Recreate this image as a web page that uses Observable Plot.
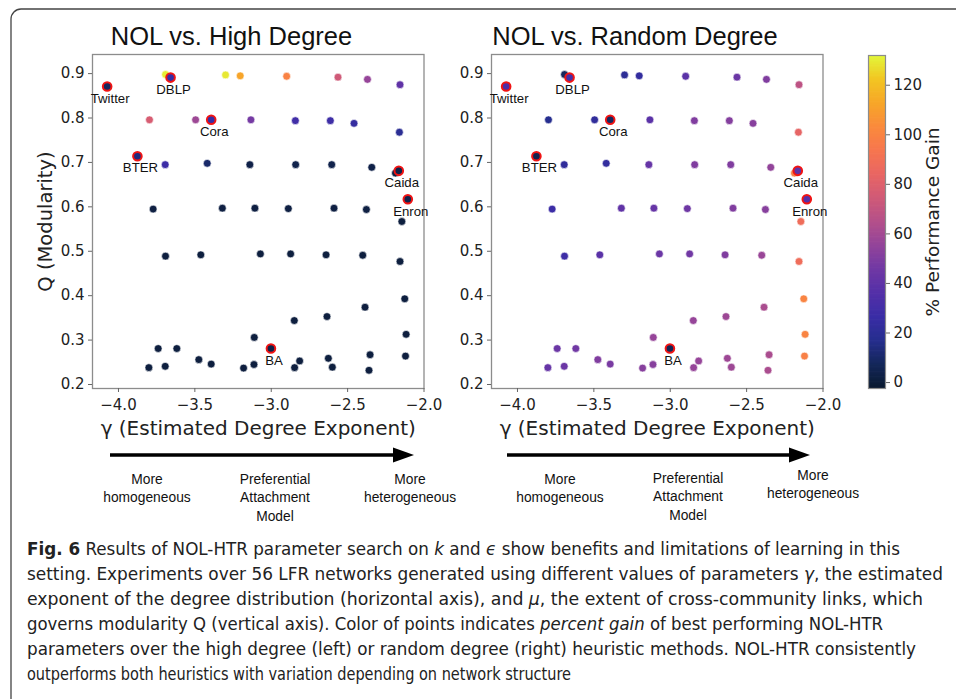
<!DOCTYPE html>
<html><head><meta charset="utf-8">
<script src="https://cdn.jsdelivr.net/npm/d3@7"></script>
<script src="https://cdn.jsdelivr.net/npm/@observablehq/plot@0.6"></script>
<style>
body{margin:0;background:#fff;}
#page{position:relative;width:956px;height:699px;overflow:hidden;background:#fff;}
.slot{position:absolute;top:0;}
</style></head><body><div id="page">
<svg id="overlay" width="956" height="699" style="position:absolute;left:0;top:0"></svg>
<div id="left" class="slot" style="left:0;width:440px"></div>
<div id="right" class="slot" style="left:399px;width:440px"></div>
<div id="cbar" class="slot" style="left:840px;width:116px"></div>
</div>
<script>
// ---------- data ----------
// 56 LFR networks: estimated degree exponent (gamma) and modularity (Q)
const lfrGamma = [
  -3.692,-3.299,-3.203,-2.899,-2.563,-2.370,-2.157,
  -3.797,-3.495,-3.133,-2.842,-2.613,-2.458,-2.161,
  -3.694,-3.419,-3.140,-2.840,-2.604,-2.342,-2.187,
  -3.773,-3.320,-3.107,-2.888,-2.589,-2.377,-2.145,
  -3.692,-3.461,-3.071,-2.873,-2.641,-2.401,-2.157,
  -2.126,-2.386,-2.635,-2.849,-3.111,-2.117,-3.740,-3.618,-2.353,-2.121,-3.474,
  -2.626,-2.814,-3.393,-3.113,-3.801,-3.694,-3.181,-2.847,-2.600,-2.360
];
const lfrQ = [
  0.898,0.897,0.895,0.894,0.892,0.887,0.875,
  0.796,0.796,0.796,0.794,0.794,0.788,0.768,
  0.695,0.698,0.695,0.695,0.695,0.689,0.676,
  0.595,0.597,0.597,0.596,0.597,0.594,0.567,
  0.489,0.492,0.494,0.494,0.492,0.491,0.477,
  0.393,0.374,0.353,0.344,0.306,0.313,0.281,0.281,0.267,0.264,0.256,
  0.259,0.253,0.246,0.245,0.238,0.241,0.237,0.238,0.239,0.232
];
// % performance gain over High Degree heuristic
const lfrGainHigh = [
  130,129,112,99,74,56,40,
  77,58,47,29,28,24,19,
  27,10,3,4,4,3,2,
  2,2,2,2,2,2,1,
  1,1,1,1,1,1,1,
  1,1,1,1,1,1,1,1,1,1,1,
  1,1,1,1,1,1,1,1,1,1
];
// % performance gain over Random Degree heuristic
const lfrGainRandom = [
  8,20,23,38,44,50,68,
  17,22,38,50,51,52,83,
  22,23,42,50,50,55,98,
  27,40,42,45,50,52,88,
  28,38,44,46,50,57,88,
  100,62,58,56,56,100,44,46,62,98,50,
  58,56,48,52,42,44,52,56,58,62
];
// real-world / model networks
const netNames = ["Twitter","DBLP","Cora","BTER","Caida","Enron","BA"];
const netGamma = [-4.074,-3.659,-3.393,-3.876,-2.165,-2.106,-3.002];
const netQ = [0.871,0.891,0.796,0.714,0.681,0.617,0.281];
const netGainHigh = [8,25,25,14,3,4,3];
const netGainRandom = [33,30,8,5,40,36,6];

const xTicks = [-4.0,-3.5,-3.0,-2.5,-2.0];
const yTicks = [0.2,0.3,0.4,0.5,0.6,0.7,0.8,0.9];
const cbTicks = [0,20,40,60,80,100,120];
const titles = ["NOL vs. High Degree","NOL vs. Random Degree"];
const xLabel = "γ (Estimated Degree Exponent)";
const yLabel = "Q (Modularity)";
const cbLabel = "% Performance Gain";
const notes = [["More","homogeneous"],["Preferential","Attachment","Model"],["More","heterogeneous"]];

// ---------- colour ----------
const stops = ["#0a1a30","#14275a","#262e8e","#3a2da6","#5430a8","#7038a4","#93449a",
  "#b4508a","#d05a77","#e96663","#f7764e","#fa8b3c","#f7a728","#f2c622","#e2f83a"];
const colorScale = {type:"linear", domain:[-2.4,132], interpolate:d3.piecewise(d3.interpolateRgb, stops)};

const lfr = lfrGamma.map((g,i)=>({g, q:lfrQ[i], hi:lfrGainHigh[i], rd:lfrGainRandom[i]}));
const nets = netNames.map((n,i)=>({n, g:netGamma[i], q:netQ[i], hi:netGainHigh[i], rd:netGainRandom[i]}));

function panel(key, withY){
  return Plot.plot({
    width:440, height:440,
    marginLeft:92, marginRight:16.5, marginTop:54, marginBottom:52,
    style:{background:"transparent", fontFamily:"DejaVu Sans", fontSize:"15px", color:"#222", overflow:"visible"},
    x:{domain:[-4.17,-2.0]},
    y:{domain:[0.191,0.943]},
    color:colorScale,
    marks:[
      Plot.frame({stroke:"#8c8c8c", strokeWidth:1.3}),
      Plot.axisX({ticks:xTicks, tickFormat:".1f", tickSize:4, tickPadding:7, label:null, stroke:"#666", fill:"#222", fontSize:15}),
      Plot.axisY({ticks:yTicks, tickFormat:".1f", tickSize:4, tickPadding:4, label:null, stroke:"#666", fill:"#222", fontSize:15}),
      Plot.dot(lfr, {x:"g", y:"q", fill:key, r:3.9, stroke:"white", strokeWidth:0.6}),
      Plot.dot(nets, {x:"g", y:"q", fill:key, r:4.3, stroke:"#f01414", strokeWidth:2}),
      Plot.text(nets, {x:"g", y:"q", text:"n", dx:3, dy:12, fontFamily:"Liberation Sans", fontSize:13.2, fill:"#111"}),
      Plot.text([xLabel], {frameAnchor:"bottom", lineAnchor:"middle", textAnchor:"middle", dy:40, fontSize:20, fill:"#222"}),
      withY ? Plot.text([yLabel], {frameAnchor:"left", lineAnchor:"middle", textAnchor:"middle", dx:-47, rotate:-90, fontSize:19.5, fill:"#222"}) : null
    ]
  });
}

document.getElementById("left").append(panel("hi", true));
document.getElementById("right").append(panel("rd", false));

const step = 0.5;
const ramp = d3.range(-2.4, 132, step);
document.getElementById("cbar").append(Plot.plot({
  width:116, height:440,
  marginLeft:28, marginRight:71, marginTop:55, marginBottom:52,
  style:{background:"transparent", fontFamily:"DejaVu Sans", fontSize:"15px", color:"#222", overflow:"visible"},
  x:{domain:[0,1], axis:null},
  y:{domain:[-2.4,132], axis:null},
  color:colorScale,
  marks:[
    Plot.rect(ramp, {x1:d=>0, x2:d=>1, y1:d=>d, y2:d=>Math.min(132, d+step*1.6), fill:d=>d+step/2}),
    Plot.frame({stroke:"#8c8c8c", strokeWidth:1.2}),
    Plot.axisY({anchor:"right", ticks:cbTicks, tickSize:4, tickPadding:4, label:null, stroke:"#666", fill:"#222", fontSize:15}),
    Plot.text([cbLabel], {frameAnchor:"right", lineAnchor:"middle", textAnchor:"middle", dx:48, rotate:-90, fontSize:18.5, fill:"#222"})
  ]
}));

// ---------- overlay: border, titles, arrows, notes, caption ----------
const svg = d3.select("#overlay");
svg.append("rect").attr("x",11).attr("y",9).attr("width",1000).attr("height",1000).attr("rx",10)
  .attr("fill","none").attr("stroke","#444").attr("stroke-width",1.3);
const tx = [231.5, 635];
titles.forEach((t,i)=>svg.append("text").attr("x",tx[i]).attr("y",45).attr("text-anchor","middle")
  .attr("font-family","Liberation Sans, Arial, sans-serif").attr("font-size",25.5).attr("fill","#111").text(t));

const arrows = [[110,414],[507,810]];
arrows.forEach(([a,b])=>{
  svg.append("line").attr("x1",a).attr("x2",b-18).attr("y1",455).attr("y2",455).attr("stroke","#000").attr("stroke-width",3.3);
  svg.append("path").attr("d",`M${b-21},447.5L${b},455L${b-21},462.5Z`).attr("fill","#000");
});
const noteX = [[147,275,410],[560,688,813]];
const noteY = [[484,484,484],[484,483,480]];
noteX.forEach((row,p)=>row.forEach((x,k)=>{
  const t = svg.append("text").attr("text-anchor","middle").attr("font-family","Liberation Sans, Arial, sans-serif")
    .attr("font-size",13.8).attr("fill","#111");
  notes[k].forEach((s,j)=>t.append("tspan").attr("x",x).attr("y",noteY[p][k]+j*18.3).text(s));
}));

const caption = [
  [["b","Fig. 6"],["n"," Results of NOL-HTR parameter search on "],["i","k"],["n"," and "],["i","ϵ"],["n"," show benefits and limitations of learning in this"]],
  [["n","setting. Experiments over 56 LFR networks generated using different values of parameters "],["i","γ"],["n",", the estimated"]],
  [["n","exponent of the degree distribution (horizontal axis), and "],["i","μ"],["n",", the extent of cross-community links, which"]],
  [["n","governs modularity Q (vertical axis). Color of points indicates "],["i","percent gain"],["n"," of best performing NOL-HTR"]],
  [["n","parameters over the high degree (left) or random degree (right) heuristic methods. NOL-HTR consistently"]],
  [["n","outperforms both heuristics with variation depending on network structure"]]
];
const capW = [873, 916, 896, 856, 889, 544];
caption.forEach((line,i)=>{
  const t = svg.append("text").attr("x",27).attr("y",555+i*25)
    .attr("font-family","Liberation Sans Narrow, DejaVu Sans Condensed, sans-serif").attr("font-size",17.5).attr("fill","#222")
    .attr("textLength",capW[i]).attr("lengthAdjust","spacingAndGlyphs");
  line.forEach(([k,s])=>{
    const sp = t.append("tspan").text(s);
    if(k==="b") sp.attr("font-weight","bold");
    if(k==="i") sp.attr("font-style","italic");
  });
});
</script>
</body></html>
